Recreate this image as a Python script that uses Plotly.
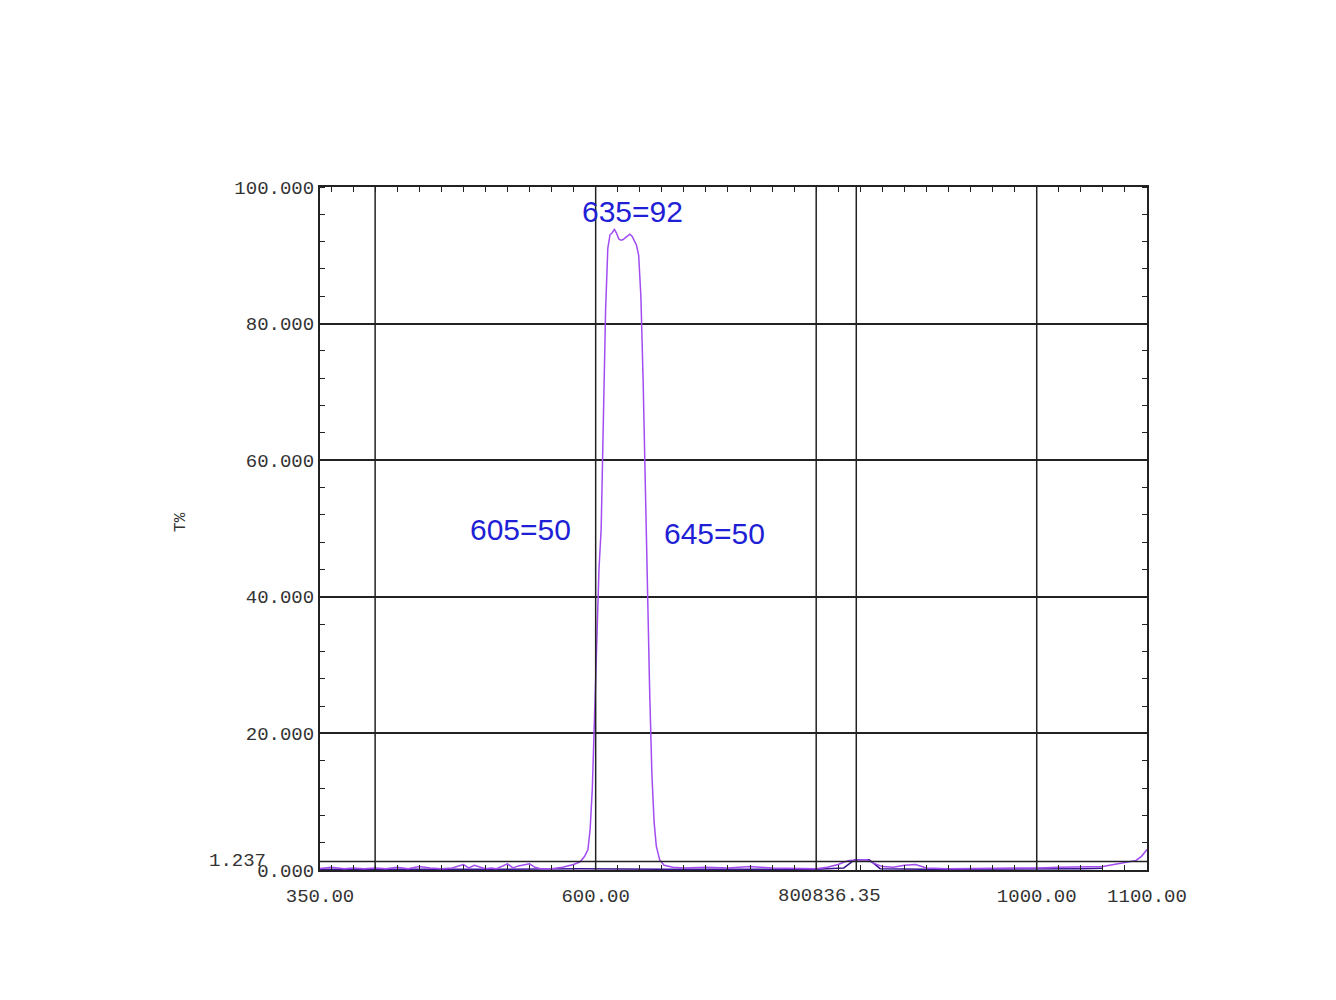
import plotly.graph_objects as go

# spectrum (nm, T%)
wavelength = [350, 360, 372, 380, 390, 400, 410, 420, 430, 440, 450, 460, 470, 480, 485,
              490, 500, 505, 510, 520, 525, 530, 540, 545, 550, 560, 570, 580, 586, 590,
              593, 595, 597, 599, 601, 603, 605, 607, 609, 611, 613, 615, 617, 619, 621,
              623, 625, 627, 629, 631, 633, 635, 637, 639, 641, 643, 645, 647, 649, 651,
              653, 655, 658, 662, 670, 680, 700, 720, 740, 760, 780, 800, 810, 820, 826,
              830, 840, 846, 852, 860, 870, 880, 890, 900, 920, 950, 980, 1000, 1020, 1040,
              1060, 1070, 1080, 1090, 1095, 1100]
transmission = [0.2, 0.4, 0.2, 0.3, 0.2, 0.3, 0.2, 0.4, 0.2, 0.5, 0.3, 0.2, 0.3, 0.8, 0.3,
                0.7, 0.2, 0.3, 0.2, 0.9, 0.3, 0.6, 0.9, 0.4, 0.2, 0.2, 0.4, 0.8, 1.2, 2.0,
                3.0, 6.0, 12.0, 22.0, 35.0, 44.0, 50.0, 66.0, 82.0, 91.0, 93.0, 93.3, 93.8, 93.2, 92.4,
                92.2, 92.3, 92.6, 92.9, 93.1, 92.8, 92.2, 91.5, 90.0, 84.0, 72.0, 55.0, 42.0, 26.0, 14.0,
                7.0, 3.5, 1.5, 0.7, 0.4, 0.3, 0.4, 0.3, 0.5, 0.3, 0.2, 0.2, 0.4, 0.8, 1.2,
                1.4, 1.5, 1.5, 1.0, 0.5, 0.4, 0.7, 0.8, 0.3, 0.2, 0.2, 0.2, 0.3, 0.4, 0.4,
                0.5, 0.8, 1.1, 1.4, 2.0, 3.0]

# second, darker scan lying along the baseline
base_wl = [350, 400, 450, 500, 550, 585, 665, 700, 760, 800, 825, 835, 848, 858, 900, 950, 1000, 1040, 1060]
base_t = [0.1, 0.15, 0.1, 0.1, 0.15, 0.2, 0.1, 0.1, 0.15, 0.1, 0.3, 1.5, 1.5, 0.2, 0.1, 0.1, 0.15, 0.2, 0.25]

x_ticks = [350, 600, 1000, 1100]
x_ticktext = ["350.00", "600.00", "1000.00", "1100.00"]
y_ticks = [0, 20, 40, 60, 80, 100]
y_ticktext = ["0.000", "20.000", "40.000", "60.000", "80.000", "100.000"]
grid_x = [400, 600, 800, 1000]
cursor_x = 836.35
cursor_y = 1.237

notes = [("635=92", 633, 96.4), ("605=50", 532, 49.8), ("645=50", 708, 49.2)]

fig = go.Figure()
fig.add_trace(go.Scatter(x=base_wl, y=base_t, mode="lines",
                         line=dict(color="#3a1590", width=1.5), hoverinfo="skip"))
fig.add_trace(go.Scatter(x=wavelength, y=transmission, mode="lines",
                         line=dict(color="#a24cf2", width=1.5)))

for gx in grid_x:
    fig.add_vline(x=gx, line=dict(color="#222", width=1.5))
fig.add_vline(x=cursor_x, line=dict(color="#222", width=1.5))
fig.add_hline(y=cursor_y, line=dict(color="#222", width=1.5))

for text, x, y in notes:
    fig.add_annotation(x=x, y=y, text=text, showarrow=False,
                       font=dict(family="Liberation Sans", size=30, color="#1f1fd6"))

tick_font = dict(family="Liberation Mono", size=19, color="#333")
fig.add_annotation(x=812, y=0, yref="paper", yanchor="middle", yshift=-26,
                   text="800836.35", showarrow=False, font=tick_font)
fig.add_annotation(x=-0.063, xref="paper", xanchor="right", y=cursor_y,
                   yanchor="middle", yshift=1, text="1.237", showarrow=False,
                   font=tick_font)
fig.add_annotation(x=-0.169, xref="paper", xanchor="center", y=0.51, yref="paper",
                   text="T%", textangle=-90, showarrow=False,
                   font=dict(family="Liberation Mono", size=16, color="#333"))

fig.update_xaxes(range=[350, 1100], tickvals=x_ticks, ticktext=x_ticktext,
                 tickfont=tick_font, showgrid=False, zeroline=False,
                 showline=True, linecolor="#222", linewidth=2, mirror="ticks",
                 ticks="", ticklabelstandoff=7,
                 minor=dict(tick0=360, dtick=20, ticks="inside", ticklen=5,
                            tickcolor="#222", showgrid=False))
fig.update_yaxes(range=[0, 100], tickvals=y_ticks, ticktext=y_ticktext,
                 tickfont=tick_font, showgrid=True, gridcolor="#222", gridwidth=1.5,
                 zeroline=False, showline=True, linecolor="#222", linewidth=2,
                 mirror="ticks", ticks="", ticklabelstandoff=0,
                 minor=dict(tick0=0, dtick=4, ticks="inside", ticklen=5,
                            tickcolor="#222", showgrid=False))

fig.update_layout(width=1336, height=1000, showlegend=False,
                  plot_bgcolor="white", paper_bgcolor="white",
                  margin=dict(l=312, r=197, t=179, b=138))

fig.write_html("out.html")
